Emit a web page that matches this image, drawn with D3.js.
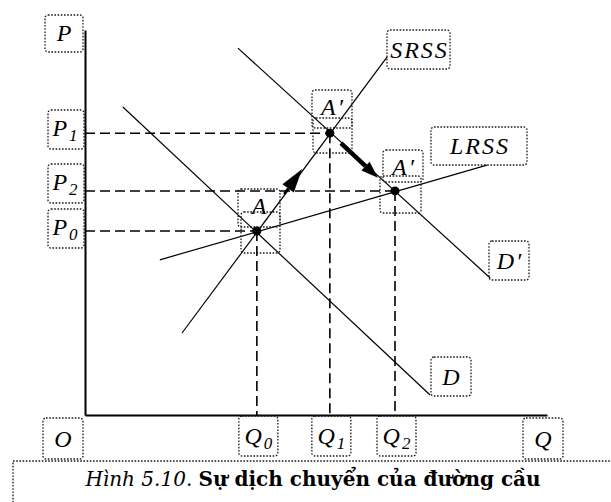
<!DOCTYPE html>
<html><head><meta charset="utf-8">
<script src="https://cdn.jsdelivr.net/npm/d3@7"></script>
<style>html,body{margin:0;padding:0;background:#fff;} svg{display:block}</style>
</head><body><svg id="c" width="611" height="502"></svg>
<script>
// ---------- data ----------
const priceLabels = ["P1", "P2", "P0"];
const priceValues = [73.2, 58.2, 47.8];
const quantityLabels = ["Q0", "Q1", "Q2"];
const quantityValues = [37.2, 53.0, 67.1];
const pointNames = ["A", "A'", "A'"];
const pointQ = [37.2, 53.0, 67.1];
const pointP = [47.8, 73.2, 58.2];
const curveNames = ["D", "D'", "SRSS", "LRSS"];
const curveStartQ = [8.2, 33.1, 21.0, 16.2];
const curveStartP = [80.0, 95.3, 21.3, 40.3];
const curveEndQ = [74.7, 87.7, 65.4, 87.0];
const curveEndP = [5.2, 35.6, 93.0, 64.9];
const arrowFromQ = [43.1, 55.4];
const arrowFromP = [57.4, 70.6];
const arrowToQ = [47.0, 63.4];
const arrowToP = [63.9, 61.6];
const captionItalic = "Hình 5.10.";
const captionBold = "Sự dịch chuyển của đường cầu";

// ---------- layout ----------
const svg = d3.select("#c");
const x = d3.scaleLinear().domain([0, 100]).range([85, 547]);
const y = d3.scaleLinear().domain([0, 100]).range([415, 30]);

const labelFont = "'Liberation Serif', 'Times New Roman', serif";
const boxStyle = s => s.attr("fill", "none").attr("stroke", "#1a1a1a")
  .attr("stroke-width", 1.3).attr("stroke-dasharray", "1.6,1.6").attr("rx", 3);

function drawBox(bx, by, bw, bh) {
  svg.append("rect").attr("x", bx).attr("y", by).attr("width", bw).attr("height", bh).call(boxStyle);
}
function drawLabel(txt, cx, base) {
  const t = svg.append("text").attr("x", cx).attr("y", base)
    .attr("text-anchor", "middle").attr("font-family", labelFont)
    .attr("font-style", "italic").attr("font-size", 24).attr("fill", "#000")
    .attr("letter-spacing", 2);
  const m = txt.match(/^([A-Z]+)(\d)$/);
  if (m) {
    t.append("tspan").text(m[1]);
    t.append("tspan").attr("font-size", 17).attr("dy", 5).text(m[2]);
  } else {
    t.text(txt.replace("'", "\u2032"));
  }
}

// caption box
svg.append("rect").attr("x", 13).attr("y", 461).attr("width", 640).attr("height", 80).call(boxStyle).attr("rx", 0);

// dashed guides
const dash = svg.append("g").attr("stroke", "#000").attr("stroke-width", 1.6)
  .attr("stroke-dasharray", "10,5").attr("fill", "none");
pointQ.forEach((q, i) => {
  dash.append("line").attr("x1", x(0)).attr("x2", x(q)).attr("y1", y(pointP[i])).attr("y2", y(pointP[i]));
  dash.append("line").attr("x1", x(q)).attr("x2", x(q)).attr("y1", y(pointP[i])).attr("y2", y(0));
});

// axes
const gy = svg.append("g").attr("transform", `translate(${x(0)},0)`)
  .call(d3.axisLeft(y).tickValues([]).tickSizeOuter(0));
const gx = svg.append("g").attr("transform", `translate(0,${y(0)})`)
  .call(d3.axisBottom(x).tickValues([]).tickSizeOuter(0));
[gx, gy].forEach(g => g.select(".domain").attr("stroke", "#000").attr("stroke-width", 2));

// curves
curveNames.forEach((n, i) => {
  svg.append("line")
    .attr("x1", x(curveStartQ[i])).attr("y1", y(curveStartP[i]))
    .attr("x2", x(curveEndQ[i])).attr("y2", y(curveEndP[i]))
    .attr("stroke", "#000").attr("stroke-width", 1.2);
});

// arrows
arrowFromQ.forEach((q, i) => {
  const x1 = x(q), y1 = y(arrowFromP[i]), x2 = x(arrowToQ[i]), y2 = y(arrowToP[i]);
  const ang = Math.atan2(y2 - y1, x2 - x1);
  const hl = i === 0 ? 24 : 17, hw = i === 0 ? 7 : 6;
  const bx = x2 - hl * Math.cos(ang), by = y2 - hl * Math.sin(ang);
  svg.append("line").attr("x1", x1).attr("y1", y1).attr("x2", bx).attr("y2", by)
    .attr("stroke", "#000").attr("stroke-width", i === 0 ? 2.5 : 4.5);
  const px = -Math.sin(ang), py = Math.cos(ang);
  svg.append("path")
    .attr("d", `M${x2},${y2}L${bx + hw * px},${by + hw * py}L${bx - hw * px},${by - hw * py}Z`)
    .attr("fill", "#000");
});

// equilibrium points
pointQ.forEach((q, i) => {
  svg.append("circle").attr("cx", x(q)).attr("cy", y(pointP[i])).attr("r", 4.5).attr("fill", "#000");
});

// axis labels
drawBox(45, 15, 38, 37); drawLabel("P", 65, 41);
const pBoxTop = [110, 164, 209];
priceLabels.forEach((l, i) => { drawBox(48, pBoxTop[i], 36, 39); drawLabel(l, 66, pBoxTop[i] + 26); });
drawBox(43, 418, 40, 41); drawLabel("O", 64, 447);
quantityLabels.forEach((l, i) => {
  const cx = x(quantityValues[i]) + 2.5;
  drawBox(cx - 20.5, 416, 39, 40); drawLabel(l, cx, 444);
});
drawBox(523, 418, 40, 41); drawLabel("Q", 544, 447);

// curve labels
const curveBox = [[431, 357, 40, 39], [489, 241, 40, 39], [387, 30, 63, 39], [431, 127, 96, 38]];
curveNames.forEach((n, i) => {
  const b = curveBox[i];
  drawBox(b[0], b[1], b[2], b[3]);
  drawLabel(n, b[0] + b[2] / 2 + 1, b[1] + b[3] / 2 + 8);
});

// point labels and marker boxes
const ptLabelBox = [[238, 189, 42, 38], [312, 90, 40, 38], [383, 150, 40, 32]];
const ptMarkBox = [[241, 212, 39, 41], [313, 118, 39, 35], [380, 176, 41, 37]];
pointNames.forEach((n, i) => {
  const b = ptLabelBox[i], m = ptMarkBox[i];
  drawBox(b[0], b[1], b[2], b[3]);
  drawBox(m[0], m[1], m[2], m[3]);
  drawLabel(n, b[0] + b[2] / 2 + 1, b[1] + 25);
});

// caption
const cap = svg.append("text").attr("x", 313).attr("y", 486).attr("text-anchor", "middle").attr("fill", "#000");
cap.append("tspan").attr("font-family", "'DejaVu Serif', serif").attr("font-style", "italic")
  .attr("font-size", 20).text(captionItalic + " ");
cap.append("tspan").attr("font-family", "'DejaVu Serif', serif").attr("font-weight", "bold")
  .attr("font-size", 20).text(captionBold);
</script></body></html>
